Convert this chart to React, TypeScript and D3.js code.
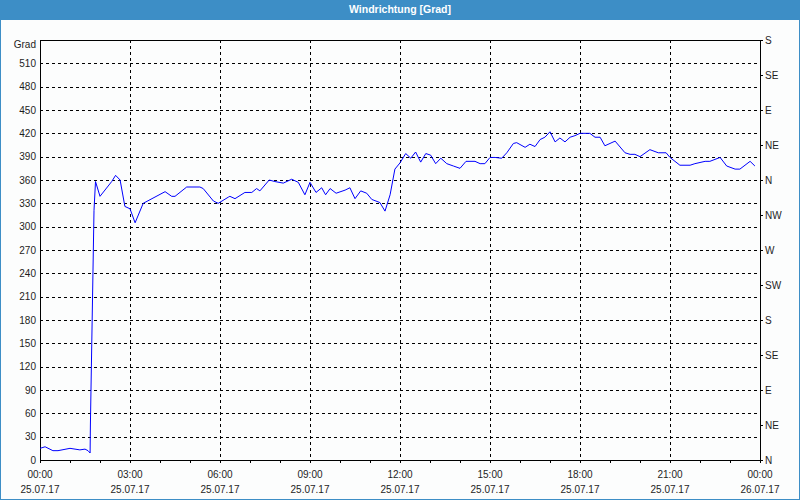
import React from "react";
import * as d3 from "d3";

const hours: number[] = [0.00,0.17,0.43,0.60,1.00,1.33,1.50,1.60,1.67,1.68,1.80,1.85,2.00,2.39,2.52,2.67,2.83,3.00,3.17,3.44,4.17,4.39,4.50,4.89,5.33,5.44,5.78,5.94,6.28,6.33,6.50,6.83,7.06,7.22,7.33,7.64,7.83,8.11,8.39,8.61,8.83,9.00,9.20,9.39,9.52,9.67,9.87,10.17,10.33,10.50,10.69,10.89,11.06,11.33,11.50,11.67,11.83,12.00,12.19,12.36,12.52,12.69,12.86,13.02,13.19,13.36,13.56,13.78,14.00,14.20,14.50,14.67,14.83,15.00,15.17,15.39,15.56,15.78,15.89,16.17,16.33,16.50,16.67,16.83,17.00,17.17,17.33,17.50,17.67,17.83,18.00,18.33,18.50,18.67,18.83,19.17,19.50,19.67,19.83,20.00,20.33,20.61,20.87,21.00,21.33,21.67,21.83,22.17,22.33,22.67,22.89,23.17,23.33,23.67,23.83];
const degrees: number[] = [15,17,12,12,15,13,14,12,9,45,321,358,339,358,366,360,326,323,305,330,345,339,339,351,351,349,333,330,338,339,336,344,344,349,346,360,358,356,361,357,341,357,344,350,341,349,343,347,350,336,346,343,335,331,320,341,374,382,394,388,396,383,394,392,381,388,381,378,375,384,384,381,381,389,389,388,395,407,408,402,406,403,412,415,422,409,414,409,415,417,420,420,415,415,404,410,395,393,393,390,399,395,395,389,379,379,381,384,384,389,378,374,374,384,378];

const yTicks: number[] = [0,30,60,90,120,150,180,210,240,270,300,330,360,390,420,450,480,510];
const dirTicks: number[] = [0,45,90,135,180,225,270,315,360,405,450,495,540];
const dirLabels: string[] = ["N","NE","E","SE","S","SW","W","NW","N","NE","E","SE","S"];
const xMajor: number[] = [0,3,6,9,12,15,18,21,24];
const timeLabels: string[] = ["00:00","03:00","06:00","09:00","12:00","15:00","18:00","21:00","00:00"];
const dateLabels: string[] = ["25.07.17","25.07.17","25.07.17","25.07.17","25.07.17","25.07.17","25.07.17","25.07.17","26.07.17"];
const title = "Windrichtung [Grad]";
const yUnit = "Grad";

export default function App() {
  const W = 800, H = 500;
  const L = 40, R = 760, T = 40, B = 460;
  const x = d3.scaleLinear().domain([0, 24]).range([L, R]);
  const y = d3.scaleLinear().domain([0, 540]).range([B, T]);
  const pts: [number, number][] = hours.map((h, i) => [h, degrees[i]]);
  const line = d3.line<[number, number]>().x(d => x(d[0])).y(d => y(d[1]));
  const minor = d3.range(0, 25, 1);
  const font = "Liberation Sans, Arial, sans-serif";
  const tc = "#1e1e1e";
  const c = (v: number) => Math.round(v) + 0.5;
  return (
    <svg width={W} height={H} style={{ position: "absolute", left: 0, top: 0 }}
      fontFamily={font} fontSize={10}>
      <rect x={0} y={0} width={W} height={H} fill="#fcfdfd" />
      <rect x={0.5} y={0.5} width={W - 1} height={H - 1} fill="none" stroke="#3d8ec6" />
      <rect x={0} y={0} width={W} height={20} fill="#3d8ec6" />
      <text x={400} y={13} textAnchor="middle" fill="#fff" fontWeight="bold" fontSize={10.5}>{title}</text>
      {yTicks.filter(v => v > 0).map(v => (
        <line key={"hg" + v} x1={L} x2={R} y1={c(y(v))} y2={c(y(v))} stroke="#000" strokeDasharray="3,3" />
      ))}
      {xMajor.filter(h => h > 0 && h < 24).map(h => (
        <line key={"vg" + h} x1={c(x(h))} x2={c(x(h))} y1={T} y2={B} stroke="#000" strokeDasharray="3,3" />
      ))}
      <rect x={c(L)} y={c(T)} width={R - L} height={B - T} fill="none" stroke="#000" />
      {minor.map(h => (
        <line key={"mt" + h} x1={c(x(h))} x2={c(x(h))} y1={B} y2={B + 3} stroke="#000" />
      ))}
      {dirTicks.map(v => (
        <line key={"rt" + v} x1={R} x2={R + 3} y1={c(y(v))} y2={c(y(v))} stroke="#000" />
      ))}
      {yTicks.map(v => (
        <text key={"yl" + v} x={36} y={y(v) + 3.5} textAnchor="end" fill={tc}>{v}</text>
      ))}
      <text x={36} y={47.5} textAnchor="end" fill={tc}>{yUnit}</text>
      {dirTicks.map((v, i) => (
        <text key={"dl" + v} x={765} y={y(v) + 3.5} fill={tc}>{dirLabels[i]}</text>
      ))}
      {xMajor.map((h, i) => (
        <g key={"xl" + h}>
          <text x={x(h)} y={477.5} textAnchor="middle" fill={tc}>{timeLabels[i]}</text>
          <text x={x(h)} y={493} textAnchor="middle" fill={tc}>{dateLabels[i]}</text>
        </g>
      ))}
      <path d={line(pts) || ""} fill="none" stroke="#0000ff" strokeWidth={1} />
    </svg>
  );
}
